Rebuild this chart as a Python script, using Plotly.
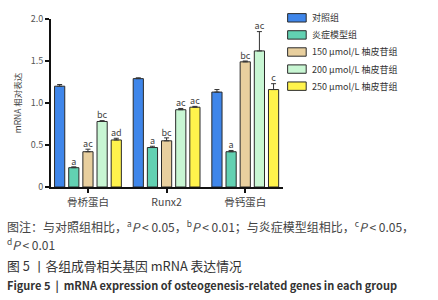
import plotly.graph_objects as go

categories = ["骨桥蛋白", "Runx2", "骨钙蛋白"]
groups = ["对照组", "炎症模型组", "150 μmol/L 柚皮苷组", "200 μmol/L 柚皮苷组", "250 μmol/L 柚皮苷组"]
colors = ["#3f86ea", "#62d1b2", "#e8cf9e", "#c8f6d3", "#fff34c"]
values = [
    [1.20, 1.29, 1.13],
    [0.23, 0.47, 0.42],
    [0.42, 0.55, 1.49],
    [0.78, 0.92, 1.62],
    [0.56, 0.95, 1.16],
]
errors = [
    [0.02, 0.01, 0.03],
    [0.01, 0.015, 0.015],
    [0.03, 0.035, 0.01],
    [0.01, 0.015, 0.23],
    [0.02, 0.01, 0.07],
]
sig_labels = [
    ["", "", ""],
    ["a", "a", "a"],
    ["ac", "bc", "bc"],
    ["bc", "ac", "ac"],
    ["ad", "ac", "c"],
]
y_ticks = [0, 0.5, 1.0, 1.5, 2.0]
y_tick_text = ["0", "0.5", "1.0", "1.5", "2.0"]

FONT = "Noto Sans CJK SC, Noto Sans, sans-serif"

fig = go.Figure()
for i, g in enumerate(groups):
    fig.add_trace(go.Bar(
        x=categories, y=values[i], name=g, offsetgroup=str(i),
        marker=dict(color=colors[i], line=dict(color="#2a2a2a", width=1)),
        error_y=dict(type="data", array=errors[i], symmetric=False, arrayminus=[0, 0, 0],
                     color="#333333", thickness=1, width=2.5),
        showlegend=False,
    ))
for i, g in enumerate(groups):
    fig.add_trace(go.Scatter(
        x=categories, y=[v + e for v, e in zip(values[i], errors[i])],
        mode="text", text=sig_labels[i], textposition="top center",
        textfont=dict(size=9, color="#444444", family=FONT),
        offsetgroup=str(i), showlegend=False, cliponaxis=False, hoverinfo="skip",
    ))

# legend drawn as shapes + text
leg_x0, leg_y0, leg_dy = 1.02, 1.007, 0.1017
for i, g in enumerate(groups):
    yc = leg_y0 - i * leg_dy
    fig.add_shape(type="rect", xref="paper", yref="paper",
                  x0=leg_x0, x1=leg_x0 + 0.08, y0=yc - 0.025, y1=yc + 0.025,
                  fillcolor=colors[i], line=dict(color="#2a2a2a", width=1))
    fig.add_annotation(xref="paper", yref="paper", x=leg_x0 + 0.097, y=yc,
                       text=g, showarrow=False, xanchor="left", yanchor="middle",
                       font=dict(size=9, color="#333333", family=FONT))

captions = [
    ("图注：与对照组相比，<sup>a</sup><i>P</i> < 0.05，<sup>b</sup><i>P</i> < 0.01；与炎症模型组相比，<sup>c</sup><i>P</i> < 0.05，", 227, 12, "#444444"),
    ("<sup>d</sup><i>P</i> < 0.01", 246, 12, "#444444"),
    ("图 5 丨各组成骨相关基因 mRNA 表达情况", 268, 12.8, "#333333"),
    ("<b>Figure 5  |  mRNA expression of osteogenesis-related genes in each group</b>", 287.5, 11, "#333333"),
]
for txt, ypx, fs, col in captions:
    fig.add_annotation(xref="paper", yref="paper", x=(5 - 51) / 232, y=(187 - ypx) / 173,
                       text=txt, showarrow=False, xanchor="left", yanchor="middle",
                       font=dict(size=fs, color=col, family=FONT))

fig.update_layout(
    width=438, height=300,
    margin=dict(l=51, r=155, t=14, b=113),
    plot_bgcolor="white", paper_bgcolor="white",
    barmode="group", bargap=0.1, bargroupgap=0.28,
    scattermode="group",
    font=dict(family=FONT, size=9, color="#444444"),
    xaxis=dict(range=[-0.47, 2.48], showline=True, linecolor="#111111", linewidth=2,
               ticks="outside", ticklen=4, tickwidth=2, tickcolor="#111111",
               tickfont=dict(size=10.5, color="#444444"), showgrid=False, zeroline=False),
    yaxis=dict(range=[0, 2.0], tickvals=y_ticks, ticktext=y_tick_text,
               showline=True, linecolor="#111111", linewidth=2,
               ticks="outside", ticklen=4, tickwidth=2, tickcolor="#111111",
               tickfont=dict(size=9, color="#555555"), showgrid=False, zeroline=False,
               title=dict(text="mRNA 相对表达", font=dict(size=8.5, color="#444444"), standoff=8)),
)

fig.write_html("out.html", config={"displayModeBar": False},
               post_script="document.body.style.margin='0';")
